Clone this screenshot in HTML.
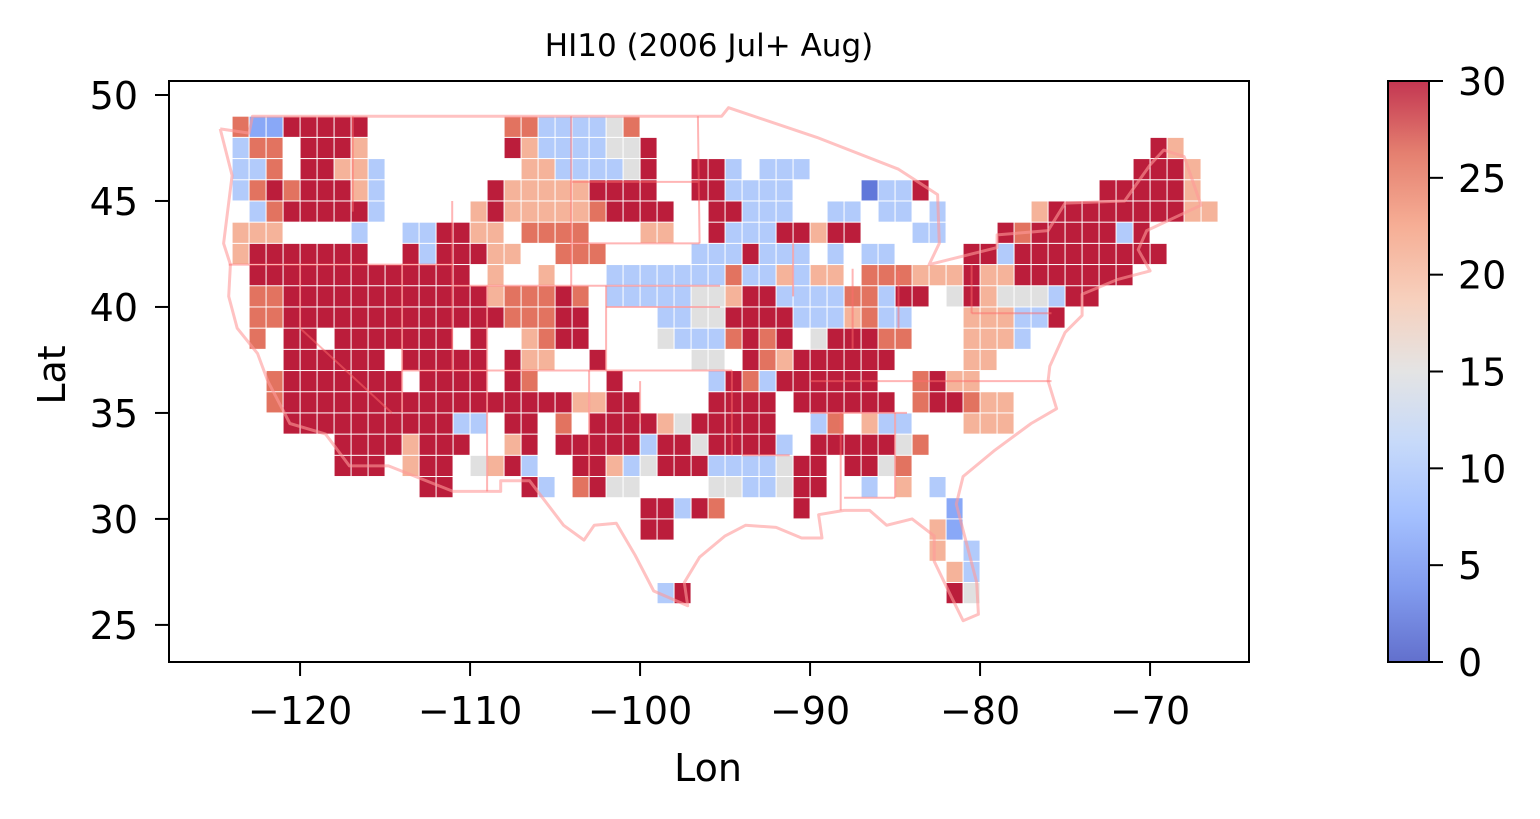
<!DOCTYPE html>
<html><head><meta charset="utf-8"><style>
html,body{margin:0;padding:0;background:#fff;}
svg{display:block;font-family:"DejaVu Sans","Liberation Sans",sans-serif;}
</style></head><body>
<svg id="chart" width="1540" height="819" viewBox="0 0 1540 819" xmlns="http://www.w3.org/2000/svg">
<defs>
<linearGradient id="cbgrad" x1="0" y1="1" x2="0" y2="0">
<stop offset="0" stop-color="#3b4cc0"/><stop offset="0.125" stop-color="#6282ea"/>
<stop offset="0.25" stop-color="#8db0fe"/><stop offset="0.375" stop-color="#b8d0f9"/>
<stop offset="0.5" stop-color="#dddddd"/><stop offset="0.625" stop-color="#f5c4ac"/>
<stop offset="0.75" stop-color="#f49a7b"/><stop offset="0.875" stop-color="#de604c"/>
<stop offset="1" stop-color="#b40426"/>
</linearGradient>
<clipPath id="plotclip"><rect x="169" y="81" width="1080" height="581"/></clipPath>
</defs>
<text x="709" y="56" font-size="31" text-anchor="middle">HI10 (2006 Jul+ Aug)</text>
<g id="plot" clip-path="url(#plotclip)">
<g id="cells"></g>
<g id="borders"></g>
</g>
<rect x="169" y="81" width="1080" height="581" fill="none" stroke="#000" stroke-width="2"/>
<g id="xaxis"></g>
<g id="yaxis"></g>
<text x="708" y="781" font-size="38" text-anchor="middle">Lon</text>
<text x="0" y="0" font-size="38" text-anchor="middle" transform="translate(65,375) rotate(-90)">Lat</text>
<rect x="1388" y="81" width="41" height="581" fill="url(#cbgrad)" fill-opacity="0.8" stroke="#000" stroke-width="2"/>
<g id="cbaxis"></g>
</svg>
<script>
// grid data: 1-degree cells, row j => lat 48-j..49-j, col i => lon -124+i..-123+i
const cellCodes = ['a','b','c','d','e','f','g'];
const cellValues = [30, 26, 21, 15, 10, 6, 2];
const gridRows = [
"0:bffaaaaa|16:bbeeeedb",
"0:ebb.aaac|16:aceeeedda|54:ac",
"0:eeb.aacce|17:cceeeeda|27:aae.eee|53:aaac",
"0:ebabaaace|15:acccccaaaa|27:aaeeee|37:geea|51:aaaaac",
"0:.ebaaaaae|14:cacccccbaaaa|28:aaeee|35:ee.ee.e|47:caaaaaaaacc",
"0:ccc|7:e|10:eeaacc|17:bbbb|24:cc|28:aeeeaacaa|40:ee|45:abaaaaaea",
"0:caaaaaaa|10:aeaaacc..bbb|27:eeeaeee.e.ee|43:aaeaaaaaaaaa",
"1:aaaaaaaaaaaaa.c..c|22:eeeee|27:eebeececc.bbbcccaccaaaaaaa",
"1:bbaaaaaaaaaaaacbbbab.eeeee|27:ddcaaeeeebbeaa.dacdddeaa",
"1:bbaaaaaaaaaaaaabbbaa|25:eedd|29:aaaaeeecbee...ccceea",
"1:b.aa.aaaaaaa.a..cbaa|25:deeebaba.daaabb...ccce",
"3:aaaaaa.aaaaa.acc..a|27:dd.abcaaaaaa....cc",
"2:baaaaaaa.aaaa.ab....a|28:eabeaaaaaa..bacc",
"2:baaaaaaaaaaaaaaaaaccaa|28:aaaa.aaaaaa.baabcc",
"3:aaaaaaaaaaee.aa.b.aaaacda|28:aaaa..eb.cee...ccc",
"6:aaaacaaa..ca.aaaaaeaad|28:aaaae.aaaaadb",
"6:aaa.caa.dcae..aacedaaa|28:eeeedaa.aadb",
"11:aa....ae.badd|28:ddeedaa..e.c.e",
"24:aaeab|33:a|42:f",
"24:aa|41:cf",
"41:c.e",
"42:ce",
"25:ea|42:ad"
];
const xTicks = [-120,-110,-100,-90,-80,-70];
const yTicks = [25,30,35,40,45,50];
const cbTicks = [0,5,10,15,20,25,30];

const NS='http://www.w3.org/2000/svg';
const X0=169,X1=1249,Y0=81,Y1=662;
const lonMin=-127.71,lonMax=-64.18,latMin=23.25,latMax=50.66;
function sx(lon){return X0+(lon-lonMin)/(lonMax-lonMin)*(X1-X0);}
function sy(lat){return Y1-(lat-latMin)/(latMax-latMin)*(Y1-Y0);}
const stops=[[59,76,192],[98,130,234],[141,176,254],[184,208,249],[221,221,221],[245,196,173],[244,154,123],[222,96,76],[180,4,38]];
function cmap(v){let t=Math.max(0,Math.min(1,v/30))*8;let k=Math.min(7,Math.floor(t));let f=t-k;
 const a=stops[k],b=stops[k+1];return 'rgb('+a.map((c,i)=>Math.round(c+(b[i]-c)*f)).join(',')+')';}
function mk(tag,attrs,parent){const e=document.createElementNS(NS,tag);for(const k in attrs)e.setAttribute(k,attrs[k]);parent.appendChild(e);return e;}

const cellsG=document.getElementById('cells');
gridRows.forEach((row,j)=>{
 row.split('|').forEach(seg=>{
  const p=seg.indexOf(':');const start=parseInt(seg.slice(0,p));const chars=seg.slice(p+1);
  for(let k=0;k<chars.length;k++){
   const idx=cellCodes.indexOf(chars[k]);if(idx<0)continue;
   const lon=-124+start+k, lat=48-j;
   const x=sx(lon),y=sy(lat+1),w=sx(lon+1)-x,h=sy(lat)-y;
   const r=mk('rect',{x:x+0.5,y:y+0.5,width:w-1,height:h-1,fill:cmap(cellValues[idx]),'fill-opacity':0.9},cellsG);
   
   
  }
 });
});

const outline=[[-124.7,48.4],[-123,48.2],[-122.8,49],[-95.2,49],[-94.8,49.4],[-89.6,48],[-84.8,46.5],[-82.5,45.3],[-82.4,43],[-83,42],[-79,42.8],[-79,43.4],[-76,43.6],[-75,44.9],[-71.5,45],[-70,46.7],[-69.2,47.4],[-68,47.1],[-67,44.8],[-70.2,43.6],[-70.7,42.7],[-70,41.7],[-71.9,41.3],[-74,40.6],[-74,39.6],[-75,38.8],[-75.9,37.2],[-76,36.5],[-75.5,35.2],[-77,34.5],[-79.2,33.2],[-81,32],[-81.4,30.7],[-80.2,27],[-80.1,25.5],[-81,25.2],[-81.8,26.5],[-82.7,28],[-82.7,29.2],[-84,30],[-85.5,29.7],[-86.5,30.4],[-88,30.4],[-89.5,30.2],[-89.3,29.1],[-90.5,29.1],[-92,29.6],[-93.8,29.7],[-95,29.2],[-96.5,28.2],[-97.4,27],[-97.2,25.9],[-99.2,26.6],[-100.3,28.3],[-101.4,29.8],[-102.7,29.7],[-103.3,29],[-104.5,29.7],[-106.5,31.8],[-108.2,31.8],[-108.2,31.3],[-111,31.3],[-114.8,32.5],[-117.1,32.5],[-118.5,34],[-120.6,34.5],[-121.9,36.5],[-122.5,37.8],[-123.7,39],[-124.2,40.5],[-124.1,42],[-124.5,43],[-124,46.2],[-124.7,48.4]];
const bordersG=document.getElementById('borders');
const ol=mk('path',{d:'M'+outline.map(p=>sx(p[0]).toFixed(1)+','+sy(p[1]).toFixed(1)).join('L'),fill:'none',stroke:'#ff9a9a','stroke-opacity':0.6,'stroke-width':3,'stroke-linejoin':'round'},bordersG);


const lines=[[[-104.05,49],[-104.05,41]],[[-111.05,45],[-111.05,37]],[[-114,37],[-94.6,37]],[[-111,41],[-95.3,41]],[[-102,37],[-102,41]],[[-102,40],[-95.3,40]],[[-104,43],[-96.5,43]],[[-104,45.9],[-96.6,45.9]],[[-109,31.3],[-109,41]],[[-114,42],[-114,35]],[[-124.2,42],[-111,42]],[[-120,42],[-120,39],[-114.6,35]],[[-90,36.5],[-75.8,36.5]],[[-90,35],[-84.3,35]],[[-80.5,39.7],[-75.8,39.7]],[[-94.6,37],[-94.6,33]],[[-103,37],[-103,32]],[[-94,33],[-91.2,33]],[[-88.2,35],[-88.2,30.4]],[[-85,35],[-85,31]],[[-88,31],[-85,31]],[[-116.9,49],[-116.9,44.5]],[[-96.6,49],[-96.5,43]],[[-91,43],[-91,40.5]],[[-87.5,41.8],[-87.5,38]],[[-84.8,41.7],[-84.8,39]],[[-80.5,42],[-80.5,39.7]],[[-100,36.5],[-100,34.5]]];
lines.forEach(l=>{
 const e=mk('path',{d:'M'+l.map(p=>sx(p[0]).toFixed(1)+','+sy(p[1]).toFixed(1)).join('L'),fill:'none',stroke:'#ff6b6b','stroke-opacity':0.5,'stroke-width':2},bordersG);
 
 
});

const xa=document.getElementById('xaxis');
xTicks.forEach(v=>{
 const x=sx(v);
 const t=mk('line',{x1:x,y1:Y1,x2:x,y2:Y1+14,stroke:'#000','stroke-width':2},xa);
 
 
 const tx=mk('text',{x:x,y:Y1+62,'font-size':38,'text-anchor':'middle'},xa);
 tx.textContent='\u2212'+Math.abs(v);
 
 
});
const ya=document.getElementById('yaxis');
yTicks.forEach(v=>{
 const y=sy(v);
 const t=mk('line',{x1:X0-14,y1:y,x2:X0,y2:y,stroke:'#000','stroke-width':2},ya);
 
 
 const tx=mk('text',{x:X0-31,y:y+14,'font-size':38,'text-anchor':'end'},ya);
 tx.textContent=v;
 
 
});
const cb=document.getElementById('cbaxis');
cbTicks.forEach(v=>{
 const y=662-v/30*581;
 const t=mk('line',{x1:1429,y1:y,x2:1443,y2:y,stroke:'#000','stroke-width':2},cb);
 
 
 const tx=mk('text',{x:1458,y:y+14,'font-size':38},cb);
 tx.textContent=v;
 
 
});
</script>
</body></html>
